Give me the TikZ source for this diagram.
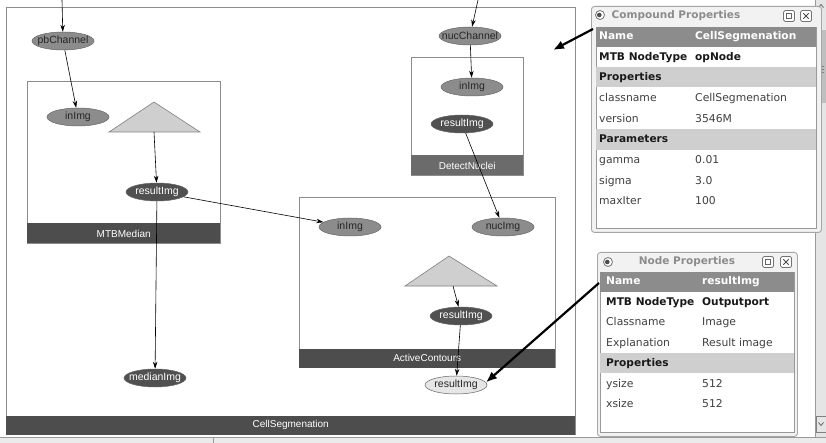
\documentclass[tikz,border=0pt]{standalone}
\usepackage{fontspec}
\setmainfont{Liberation Sans}
\newfontfamily\winfont{DejaVu Sans}
\usetikzlibrary{shapes.geometric,arrows.meta}
\definecolor{portgray}{HTML}{8C8C8C}
\definecolor{portdark}{HTML}{505050}
\definecolor{portlight}{HTML}{E6E6E6}
\definecolor{barc}{HTML}{4D4D4D}
\definecolor{barlight}{HTML}{6B6B6B}
\definecolor{tric}{HTML}{CFCFCF}
\definecolor{hdrc}{HTML}{8C8C8C}
\definecolor{secc}{HTML}{CFCFCF}
\begin{document}
\begin{tikzpicture}[x=1pt,y=-1pt,
  port/.style={ellipse, draw=black!60, minimum width=62pt, minimum height=18pt, inner sep=0pt, line width=0.5pt},
  grayport/.style={port, fill=portgray},
  darkport/.style={port, fill=portdark},
  lightport/.style={port, fill=portlight},
  lbl/.style={font=\fontsize{10.5}{12}\selectfont, text=black!85, inner sep=0pt},
  wlbl/.style={lbl, text=white},
  grpbox/.style={draw=black!45, fill=white, inner sep=0pt, line width=0.7pt},
  bar/.style={fill=barc, text=white, inner sep=0pt, font=\fontsize{10}{12}\selectfont},
  tri/.style={fill=tric, draw=black!50, line width=0.6pt},
  arr/.style={-{Stealth[length=7pt,width=4.5pt]}, black, line width=0.6pt},
  bigarr/.style={-{Latex[length=11pt,width=9pt]}, black, line width=2.2pt},
  winframe/.style={draw=black!35, fill=black!5, rounded corners=3pt, line width=0.9pt, inner sep=0pt},
  winpanel/.style={draw=black!40, fill=white, inner sep=0pt, line width=0.6pt},
  hdrrow/.style={fill=hdrc, inner sep=0pt},
  secrow/.style={fill=secc, inner sep=0pt},
  wtxt/.style={font=\winfont\fontsize{10.8}{13}\selectfont, anchor=west, inner sep=0pt, text=black!75, text height=7.8pt, text depth=2pt},
  wb/.style={wtxt, font=\winfont\bfseries\fontsize{10.6}{13}\selectfont, text=black!90},
  wbw/.style={wb, text=white},
  wtitle/.style={font=\winfont\bfseries\fontsize{10.5}{13}\selectfont, text=black!45, inner sep=0pt},
  btn/.style={draw=black!55, fill=white, rounded corners=1.5pt, minimum size=11pt, inner sep=0pt, line width=0.7pt},
  icon/.style={circle, draw=black!55, fill=white, minimum size=9pt, inner sep=0pt, line width=0.8pt}
]
\useasboundingbox (0,0) rectangle (826,443);
\fill[white] (0,0) rectangle (826,443);

% scrollbar on the right
\fill[black!10] (815,0) rectangle (826,437);
\draw[black!40] (815,0) -- (815,437);
\fill[black!25] (818,30) rectangle (826,103);
\draw[black!50] (819,66) -- (824,66) (819,69) -- (824,69) (819,72) -- (824,72);
\draw[black!60, line width=0.8pt] (818.5,7.5) -- (821,4.5) -- (823.5,7.5);
\draw[black!50] (816,416) rectangle (826,432);
\draw[black!60, line width=0.8pt] (818.5,422.5) -- (821,425.5) -- (823.5,422.5);
% bottom strip
\fill[black!8] (0,437) rectangle (826,443);
\draw[black!40] (0,437) -- (826,437);
\draw[black!40] (213,437) -- (213,443);

% group boxes
\node[grpbox, anchor=north west, minimum width=569pt, minimum height=427pt] (cellBox) at (6,7) {};
\node[bar, anchor=south west, minimum width=569pt, minimum height=19pt] (cellBar) at (cellBox.south west) {CellSegmenation};

\node[grpbox, anchor=north west, minimum width=193pt, minimum height=162pt] (mtbBox) at (27,81) {};
\node[bar, anchor=south west, minimum width=193pt, minimum height=20pt] (mtbBar) at (mtbBox.south west) {MTBMedian};

\node[grpbox, anchor=north west, minimum width=112pt, minimum height=118pt] (dnBox) at (411,57) {};
\node[bar, fill=barlight, anchor=south west, minimum width=112pt, minimum height=20pt] (dnBar) at (dnBox.south west) {DetectNuclei};

\node[grpbox, anchor=north west, minimum width=256pt, minimum height=170pt] (acBox) at (299,197) {};
\node[bar, anchor=south west, minimum width=256pt, minimum height=19pt] (acBar) at (acBox.south west) {ActiveContours};

% operator triangles
\draw[tri] (154,102) -- (200,132) -- (109,132) -- cycle;
\coordinate (triM) at (154,132);
\draw[tri] (449,256) -- (497,286) -- (405,286) -- cycle;
\coordinate (triA) at (453,286);

% ports
\node[grayport, label={[lbl]center:pbChannel}] (pb) at (63,41) {};
\node[grayport, label={[lbl]center:inImg}] (inM) at (78,117) {};
\node[darkport, label={[wlbl]center:resultImg}] (rM) at (157,192) {};
\node[darkport, label={[wlbl]center:medianImg}] (med) at (155,378) {};
\node[grayport, label={[lbl]center:nucChannel}] (nucCh) at (470,36) {};
\node[grayport, label={[lbl]center:inImg}] (inDN) at (472,87) {};
\node[darkport, label={[wlbl]center:resultImg}] (rDN) at (462,124) {};
\node[grayport, label={[lbl]center:inImg}] (inA) at (350,227) {};
\node[grayport, label={[lbl]center:nucImg}] (nucImg) at (503,227) {};
\node[darkport, label={[wlbl]center:resultImg}] (rA) at (461,316) {};
\node[lightport, label={[lbl]center:resultImg}] (rOut) at (456,385) {};

% connectors
\coordinate (topPb) at (62,0);
\coordinate (topNuc) at (478,0);
\draw[arr] (topPb) -- (pb);
\draw[arr] (pb) -- (inM);
\draw[arr] (triM) -- (rM);
\draw[arr] (rM) -- (med);
\draw[arr] (rM) -- (inA);
\draw[arr] (topNuc) -- (nucCh);
\draw[arr] (nucCh) -- (inDN);
\draw[arr] (rDN) -- (nucImg);
\draw[arr] (triA) -- (rA);
\draw[arr] (rA) -- (rOut);

% ---------- Compound Properties window ----------
\node[winframe, anchor=north west, minimum width=230pt, minimum height=226pt] (cpWin) at (591,6) {};
\node[winpanel, anchor=north west, minimum width=220pt, minimum height=201pt] (cpPanel) at (596,27) {};
\node[hdrrow, anchor=north west, minimum width=220pt, minimum height=20pt] (cpHead) at (596,27) {};
\node[secrow, anchor=north west, minimum width=220pt, minimum height=20pt] (cpSec1) at (596,67) {};
\node[secrow, anchor=north west, minimum width=220pt, minimum height=21pt] (cpSec2) at (596,129) {};
\node[icon] (cpIcon) at (600,15) {};
\fill[black!70] (599.3,15) circle (2.3pt);
\node[wtitle] (cpTitle) at (676,16) {Compound Properties};
\node[btn] (cpMax) at (789,16) {};
\draw[black!60, line width=0.7pt] (786.5,13.5) rectangle (791.5,18.5);
\node[btn] (cpClose) at (806,16) {};
\draw[black!70, line width=0.9pt] (803.3,13.3) -- (808.7,18.7) (803.3,18.7) -- (808.7,13.3);

\node[wbw] (cpA1) at (599,37) {Name};
\node[wbw] (cpB1) at (695,37) {CellSegmenation};
\node[wb] (cpA2) at (599,58) {MTB NodeType};
\node[wb] (cpB2) at (695,58) {opNode};
\node[wb] (cpA3) at (599,78) {Properties};
\node[wtxt] (cpA4) at (599,99) {classname};
\node[wtxt] (cpB4) at (695,99) {CellSegmenation};
\node[wtxt] (cpA5) at (599,120) {version};
\node[wtxt] (cpB5) at (695,120) {3546M};
\node[wb] (cpA6) at (599,140) {Parameters};
\node[wtxt] (cpA7) at (599,161) {gamma};
\node[wtxt] (cpB7) at (695,161) {0.01};
\node[wtxt] (cpA8) at (599,182) {sigma};
\node[wtxt] (cpB8) at (695,182) {3.0};
\node[wtxt] (cpA9) at (599,202) {maxIter};
\node[wtxt] (cpB9) at (695,202) {100};

% ---------- Node Properties window ----------
\node[winframe, anchor=north west, minimum width=200pt, minimum height=184pt] (npWin) at (597,252) {};
\node[winpanel, anchor=north west, minimum width=194pt, minimum height=160pt] (npPanel) at (600,272) {};
\node[hdrrow, anchor=north west, minimum width=194pt, minimum height=20pt] (npHead) at (600,272) {};
\node[secrow, anchor=north west, minimum width=194pt, minimum height=20pt] (npSec1) at (600,353) {};
\node[icon] (npIcon) at (608,262) {};
\fill[black!70] (607.3,262) circle (2.3pt);
\node[wtitle] (npTitle) at (687,262) {Node Properties};
\node[btn] (npMax) at (768,262) {};
\draw[black!60, line width=0.7pt] (765.5,259.5) rectangle (770.5,264.5);
\node[btn] (npClose) at (786,262) {};
\draw[black!70, line width=0.9pt] (783.3,259.3) -- (788.7,264.7) (783.3,264.7) -- (788.7,259.3);

\node[wbw] (npA1) at (606,282) {Name};
\node[wbw] (npB1) at (702,282) {resultImg};
\node[wb] (npA2) at (606,303) {MTB NodeType};
\node[wb] (npB2) at (702,303) {Outputport};
\node[wtxt] (npA3) at (606,323) {Classname};
\node[wtxt] (npB3) at (702,323) {Image};
\node[wtxt] (npA4) at (606,344) {Explanation};
\node[wtxt] (npB4) at (702,344) {Result image};
\node[wb] (npA5) at (606,364) {Properties};
\node[wtxt] (npA6) at (606,385) {ysize};
\node[wtxt] (npB6) at (702,385) {512};
\node[wtxt] (npA7) at (606,405) {xsize};
\node[wtxt] (npB7) at (702,405) {512};

% pointer arrows
\coordinate (cpStart) at (593,29);
\coordinate (cpTip) at (553,50);
\draw[bigarr] (cpStart) -- (cpTip);
\coordinate (npStart) at (599,283);
\draw[bigarr] (npStart) -- (rOut.5);
\end{tikzpicture}
\end{document}
